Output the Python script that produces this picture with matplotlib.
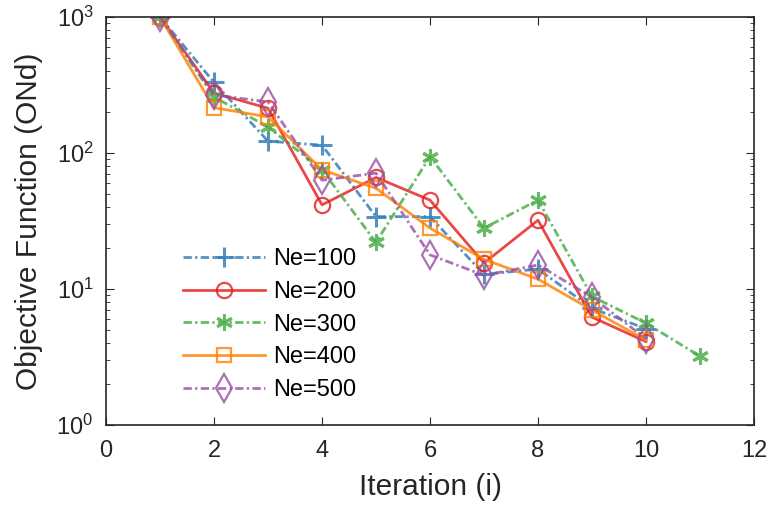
import matplotlib.pyplot as plt
import numpy as np

plt.rcParams['font.family'] = ['Liberation Sans', 'DejaVu Sans']
plt.rcParams['mathtext.default'] = 'regular'

iters = [1, 2, 3, 4, 5, 6, 7, 8, 9, 10]
iters300 = [1, 2, 3, 4, 5, 6, 7, 8, 9, 10, 11]

ne100 = [1000, 330, 122, 114, 34, 34, 12.8, 14, 7.2, 5.1]
ne200 = [1000, 276, 213, 41.5, 66, 45, 15.5, 32, 6.2, 4.1]
ne300 = [1000, 258, 155, 75, 22, 94, 28, 45, 8.8, 5.6, 3.2]
ne400 = [1000, 215, 184, 75, 55, 28, 16.5, 11.8, 7.0, 4.2]
ne500 = [1000, 267, 237, 63, 71, 17.8, 12.6, 15, 8.7, 4.3]

labels = ["Ne=100", "Ne=200", "Ne=300", "Ne=400", "Ne=500"]

dashdot = (0, (3, 1.2, 0.8, 1.2))

fig = plt.figure(figsize=(7.72, 5.12), dpi=100)
ax = fig.add_axes([0.1373, 0.170, 0.8394, 0.797])

ax.plot(iters, ne100, color='#377eb8', ls=dashdot, marker='+', ms=14, mew=2.2, lw=2, alpha=0.85, label=labels[0])
ax.plot(iters, ne200, color='#e41a1c', ls='-', marker='o', ms=11, mfc='none', mew=1.6, lw=2, alpha=0.8, label=labels[1])
ax.plot(iters300, ne300, color='#4daf4a', ls=dashdot, marker=(6, 2, 0), ms=12, mew=2.2, lw=2, alpha=0.85, label=labels[2])
ax.plot(iters, ne400, color='#ff7f00', ls='-', marker='s', ms=9.5, mfc='none', mew=1.6, lw=2, alpha=0.8, label=labels[3])
ax.plot(iters, ne500, color='#984ea3', ls=dashdot, marker='d', ms=14, mfc='none', mew=1.6, lw=2, alpha=0.8, label=labels[4])

ax.set_yscale('log')
ax.set_xlim(0, 12)
ax.set_ylim(1, 1000)
ax.set_xticks(np.arange(0, 13, 2))
ax.tick_params(which='both', direction='in', top=True, right=True, labelsize=17, colors='#262626')
ax.tick_params(which='major', length=6)
ax.tick_params(which='minor', length=3)
ax.tick_params(axis='x', which='minor', top=False, bottom=False)
ax.tick_params(axis='x', pad=11)
ax.tick_params(axis='y', pad=9)
for s in ax.spines.values():
    s.set_color('#262626')
    s.set_linewidth(1.2)

ax.set_xlabel("Iteration (i)", fontsize=21.5, color='#262626', labelpad=8)
ax.set_ylabel("Objective Function (ONd)", fontsize=21.5, color='#262626', labelpad=10)

ax.legend(loc='lower left', bbox_to_anchor=(0.10, 0.03), frameon=False, fontsize=17,
          handlelength=3.5, handletextpad=0.35, labelspacing=0.45, borderpad=0)

plt.savefig("out.png", dpi=100)
